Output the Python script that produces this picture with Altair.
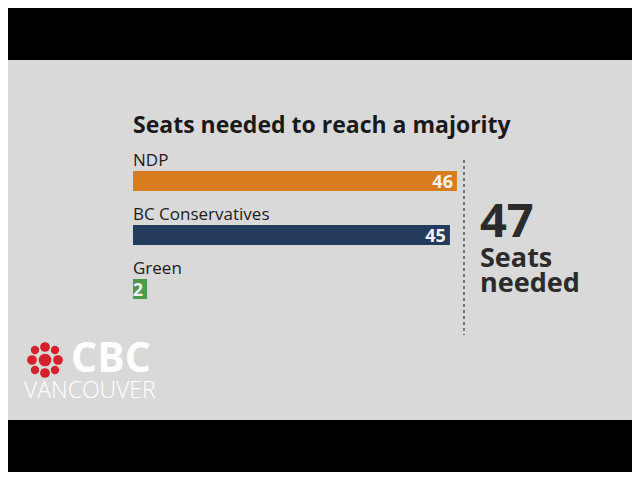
import altair as alt
import pandas as pd

parties = ["NDP", "BC Conservatives", "Green"]
seats_needed = [46, 45, 2]
party_colors = ["#D77C1F", "#243B5C", "#4C9A4C"]
majority = 47
title_text = "Seats needed to reach a majority"
note_lines = ["Seats", "needed"]

df = pd.DataFrame({"party": parties, "seats": seats_needed, "start": [0] * len(parties)})
maj = pd.DataFrame({"majority": [majority]})

W, H = 624, 464
FONT = "Open Sans"

xs = alt.Scale(domain=[0, majority], range=[125, 456], zero=True, nice=False)
ys = alt.Scale(domain=parties, range=[140, 302], paddingInner=0, paddingOuter=0)
cs = alt.Scale(domain=parties, range=party_colors)

base = alt.Chart(df)

bars = base.mark_bar(height=20, yOffset=6).encode(
    x=alt.X("seats:Q", scale=xs, axis=None),
    y=alt.Y("party:N", scale=ys, axis=None, sort=parties),
    color=alt.Color("party:N", scale=cs, legend=None),
)

names = base.mark_text(align="left", baseline="alphabetic", yOffset=-9,
                       fontSize=17, font=FONT, color="#1c1c1c").encode(
    x=alt.X("start:Q", scale=xs, axis=None),
    y=alt.Y("party:N", scale=ys, axis=None, sort=parties),
    text="party:N",
)

values = base.mark_text(align="right", baseline="alphabetic", yOffset=13, dx=-4,
                        fontSize=18, font=FONT, fontWeight="bold", color="#f2f2f2").encode(
    x=alt.X("seats:Q", scale=xs, axis=None),
    y=alt.Y("party:N", scale=ys, axis=None, sort=parties),
    text="seats:Q",
)

mbase = alt.Chart(maj)
rule = mbase.mark_rule(strokeDash=[3, 3], strokeWidth=1.2, color="#333333").encode(
    x=alt.X("majority:Q", scale=xs, axis=None),
    y=alt.value(152), y2=alt.value(327),
)
big = mbase.mark_text(align="left", baseline="alphabetic", dx=16, fontSize=47,
                      font=FONT, fontWeight="bold", color="#2b2b2b").encode(
    x=alt.X("majority:Q", scale=xs, axis=None),
    y=alt.value(229),
    text="majority:Q",
)
note = mbase.mark_text(align="left", baseline="alphabetic", dx=16, fontSize=27,
                       lineHeight=25, font=FONT, fontWeight="bold", color="#2b2b2b",
                       text=note_lines).encode(
    x=alt.X("majority:Q", scale=xs, axis=None),
    y=alt.value(259),
)

title = mbase.mark_text(align="left", baseline="alphabetic", fontSize=23,
                        font=FONT, fontWeight="bold", color="#1a1a1a",
                        text=title_text).encode(
    x=alt.value(125), y=alt.value(125))

# letterbox bars
top_bar = mbase.mark_rect(color="#000000").encode(
    x=alt.value(-10), x2=alt.value(W + 10), y=alt.value(-10), y2=alt.value(52))
bot_bar = mbase.mark_rect(color="#000000").encode(
    x=alt.value(-10), x2=alt.value(W + 10), y=alt.value(412), y2=alt.value(H + 10))

# CBC logo
red = "#D6202B"
gem_layers = []
cx, cy = 37, 352
gem_pts = [(0, 0, 160)] + [(dx, dy, 95) for dx, dy in
                           [(0, -13), (0, 13), (-13, 0), (13, 0)]] + \
          [(dx, dy, 70) for dx, dy in [(-10, -10), (10, -10), (-10, 10), (10, 10)]]
for dx, dy, s in gem_pts:
    gem_layers.append(mbase.mark_point(shape="circle", filled=True, opacity=1,
                                       color=red, size=s).encode(
        x=alt.value(cx + dx), y=alt.value(cy + dy)))
cbc = mbase.mark_text(align="left", baseline="alphabetic", fontSize=41,
                      font=FONT, fontWeight="bold", color="#ffffff",
                      text="CBC").encode(x=alt.value(63), y=alt.value(364))
van = mbase.mark_text(align="left", baseline="alphabetic", fontSize=23,
                      font=FONT, fontWeight=300, color="#ffffff",
                      text="VANCOUVER").encode(x=alt.value(16), y=alt.value(390))

chart = alt.layer(top_bar, bot_bar, title, bars, names, values, rule, big, note,
                  *gem_layers, cbc, van).properties(
    width=W, height=H,
    autosize=alt.AutoSizeParams(type="none"),
    padding=0,
    background="#D9D9D9",
).configure_view(stroke=None)

chart.save("out.html", embed_options={"renderer": "svg", "actions": False})
